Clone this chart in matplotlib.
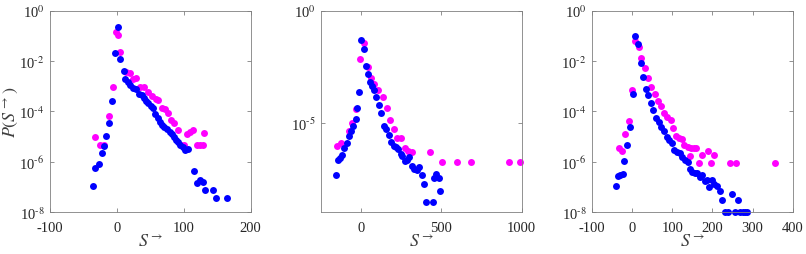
import numpy as np
import matplotlib
matplotlib.use('Agg')
import matplotlib.pyplot as plt

plt.rcParams['font.family'] = ['Liberation Serif', 'DejaVu Serif']
plt.rcParams['mathtext.fontset'] = 'stix'
plt.rcParams['axes.unicode_minus'] = False

# Panel 1 (log10 of P)
x1_blue = [-35, -32, -27, -23, -20, -16, -12, -7, -3, 1, 5, 10, 12, 16, 20, 24, 29, 33, 37,
           40, 44, 47, 51, 54, 57, 61, 64, 68, 71, 75, 79, 82, 85, 88, 92, 95, 99, 102, 106,
           115, 119, 124, 128, 131, 144, 148, 164]
y1_blue = [-6.94, -6.24, -6.07, -5.66, -5.37, -4.99, -4.46, -3.60, -1.67, -0.67, -1.92, -2.39,
           -2.72, -2.84, -2.95, -3.06, -3.11, -3.31, -3.36, -3.45, -3.58, -3.68, -3.77, -3.88,
           -4.10, -4.25, -4.43, -4.54, -4.62, -4.70, -4.80, -4.89, -5.00, -5.13, -5.22, -5.32,
           -5.41, -5.52, -5.48, -6.38, -6.83, -6.73, -6.79, -7.13, -7.12, -7.43, -7.43]
x1_mag = [-32, -25, -19, -12, -6, -2, 2, 5, 13, 19, 24, 29, 35, 40, 47, 52, 58, 61, 68, 72, 77,
          81, 86, 92, 96, 101, 105, 110, 114, 119, 124, 128, 130]
y1_mag = [-5.01, -5.32, -5.32, -4.18, -3.03, -0.83, -0.98, -1.65, -2.43, -2.47, -2.71, -2.69,
          -3.02, -3.04, -3.23, -3.39, -3.51, -3.55, -3.85, -3.89, -4.05, -4.35, -4.47, -4.75,
          -5.32, -5.32, -4.89, -4.80, -4.74, -5.32, -5.32, -5.32, -4.85]

# Panel 2
x2_blue = [-158, -147, -133, -120, -106, -91, -77, -62, -50, -35, -27, -12, 2, 17, 31, 44, 54,
           68, 81, 95, 110, 124, 143, 154, 172, 189, 203, 216, 232, 249, 257, 272, 286, 297,
           315, 330, 346, 363, 380, 392, 402, 446, 456, 469, 488, 494]
y2_blue = [-7.33, -6.68, -6.57, -6.45, -6.14, -5.92, -5.61, -5.37, -5.16, -4.85, -4.35, -3.61,
           -1.31, -1.71, -2.45, -2.85, -3.19, -3.37, -3.55, -3.84, -4.20, -4.57, -5.16, -5.27,
           -5.55, -5.88, -6.02, -6.08, -6.19, -6.41, -6.47, -6.72, -6.66, -6.53, -6.93, -7.08,
           -7.11, -6.97, -7.34, -7.74, -8.52, -8.52, -7.49, -7.28, -7.45, -8.06]
x2_mag = [-149, -124, -75, -54, -33, -8, 19, 44, 62, 83, 108, 135, 158, 181, 205, 224, 251,
          274, 290, 317, 432, 506, 600, 687, 921, 988]
y2_mag = [-6.02, -5.90, -5.37, -5.01, -4.38, -2.18, -1.45, -2.52, -3.00, -3.28, -3.53, -3.86,
          -4.36, -4.90, -5.30, -5.70, -5.67, -6.11, -6.26, -6.29, -6.29, -6.75, -6.75, -6.75,
          -6.75, -6.75]

# Panel 3
x3_blue = [-39, -34, -29, -24, -20, -13, -5, 1, 8, 15, 21, 27, 34, 40, 47, 53, 60, 66, 73, 80,
           86, 93, 99, 104, 113, 118, 124, 132, 138, 143, 149, 157, 162, 168, 175, 181, 187,
           192, 198, 205, 211, 218, 225, 231, 240, 249, 257, 263, 268, 275, 281, 287]
y3_blue = [-6.96, -6.57, -6.51, -6.47, -5.98, -5.33, -4.60, -3.32, -1.02, -1.34, -2.09, -2.63,
           -3.11, -3.35, -3.66, -3.96, -4.25, -4.40, -4.60, -4.78, -5.01, -5.12, -5.25, -5.52,
           -5.60, -5.66, -5.82, -5.94, -5.99, -6.28, -6.40, -6.43, -6.45, -6.61, -6.52, -6.75,
           -6.72, -6.98, -6.72, -6.89, -6.94, -7.14, -7.53, -8.0, -8.0, -7.28, -8.0, -7.53,
           -8.0, -8.0, -8.0, -8.0]
x3_mag = [-33, -25, -19, -7, 0.5, 6, 16, 23, 33, 40, 47, 56, 64, 73, 80, 86, 96, 103, 110, 117,
          124, 128, 138, 147, 155, 160, 143, 167, 174, 188, 196, 205, 244, 260, 356]
y3_mag = [-5.45, -5.56, -4.89, -4.38, -3.15, -1.20, -1.46, -1.89, -2.29, -2.66, -3.02, -3.31,
          -3.60, -3.78, -4.05, -4.22, -4.33, -4.64, -4.99, -5.05, -5.09, -5.32, -5.42, -5.45,
          -5.45, -5.45, -5.75, -6.06, -5.74, -5.57, -6.06, -5.74, -6.06, -6.06, -6.06]

dec_labels = [r'10$^{\text{-}8}$', r'10$^{\text{-}6}$', r'10$^{\text{-}4}$',
              r'10$^{\text{-}2}$', r'10$^{0}$']

panels = [
    (x1_blue, y1_blue, x1_mag, y1_mag, (-100, 200), [-100, 0, 100, 200], (1e-8, 1e0),
     [1e-8, 1e-6, 1e-4, 1e-2, 1e0], dec_labels),
    (x2_blue, y2_blue, x2_mag, y2_mag, (-250, 1000), [0, 500, 1000], (1e-9, 1e0),
     [1e-5, 1e0], [r'10$^{\text{-}5}$', r'10$^{0}$']),
    (x3_blue, y3_blue, x3_mag, y3_mag, (-100, 400), [-100, 0, 100, 200, 300, 400], (1e-8, 1e0),
     [1e-8, 1e-6, 1e-4, 1e-2, 1e0], dec_labels),
]

lefts = [50 / 806, 321 / 806, 592 / 806]
fig = plt.figure(figsize=(8.06, 2.55), dpi=100)

for i, (xb, yb, xm, ym, xl, xt, yl, yt, ytl) in enumerate(panels):
    ax = fig.add_axes([lefts[i], 0.1635, 0.249, 0.791])
    ax.plot(xm, 10 ** np.array(ym), 'o', color='#ff00ff', ms=5, mec='none', clip_on=False)
    ax.plot(xb, 10 ** np.array(yb), 'o', color='#0000ff', ms=5, mec='none', clip_on=False)
    ax.set_yscale('log')
    ax.set_xlim(xl)
    ax.set_ylim(yl)
    ax.set_xticks(xt)
    ax.set_yticks(yt)
    ax.set_yticklabels(ytl)
    ax.minorticks_off()
    ax.tick_params(direction='in', top=True, right=True, labelsize=10.5,
                   colors='#808080', labelcolor='#262626', length=3, width=0.6)
    ax.tick_params(axis='x', pad=6)
    ax.tick_params(axis='y', pad=4)
    for s in ax.spines.values():
        s.set_color('#808080')
        s.set_linewidth(0.6)
    ax.set_xlabel(r'$S^{\rightarrow}$', fontsize=13, color='#404040')
    ax.xaxis.set_label_coords(0.5, -0.105)
    if i == 0:
        ax.set_ylabel(r'$P(S^{\rightarrow})$', fontsize=13, color='#404040')
        ax.yaxis.set_label_coords(-0.15, 0.5)

fig.savefig('out.png', dpi=100)
